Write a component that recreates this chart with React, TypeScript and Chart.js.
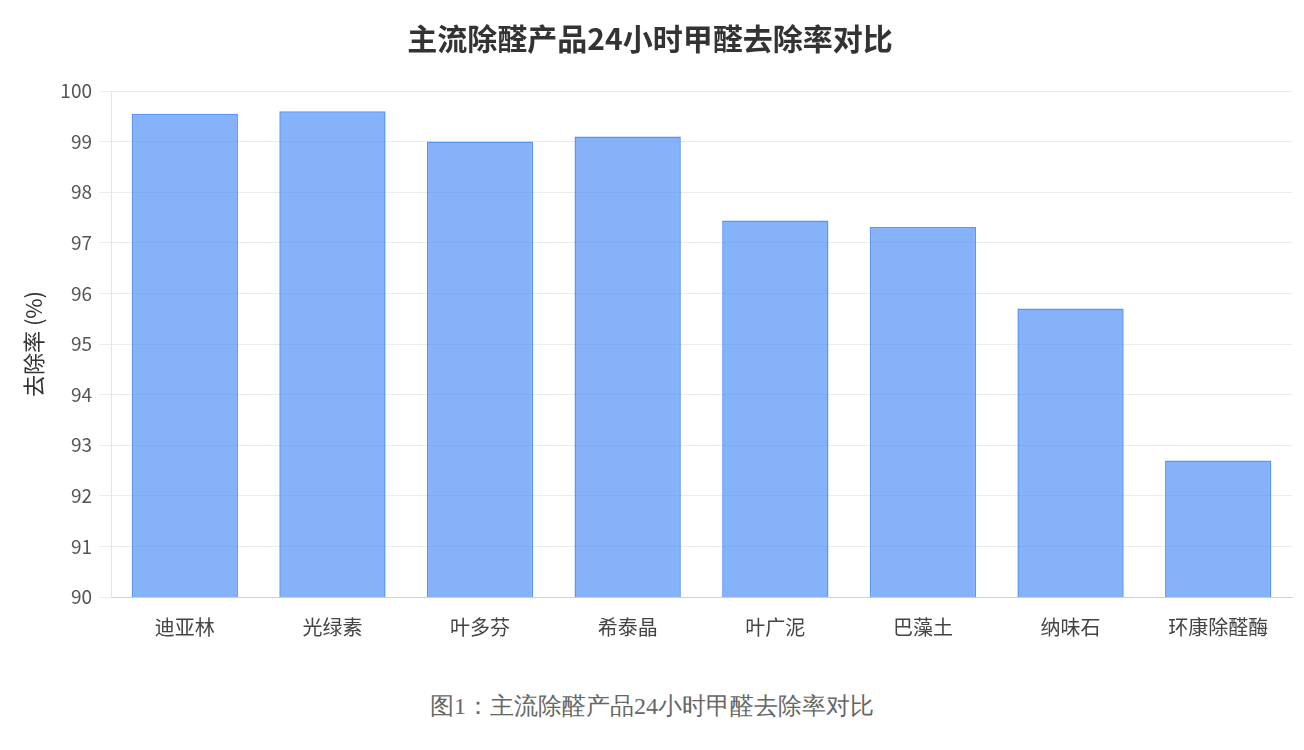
import React, { useEffect, useRef } from "react";
import { Chart, registerables } from "chart.js";

Chart.register(...registerables);

const categories = ["迪亚林", "光绿素", "叶多芬", "希泰晶", "叶广泥", "巴藻土", "纳味石", "环康除醛酶"];
const removalRates = [99.55, 99.6, 99.0, 99.1, 97.44, 97.31, 95.7, 92.7];
const yMin = 90;
const yMax = 100;
const chartTitle = "主流除醛产品24小时甲醛去除率对比";
const yTitle = "去除率 (%)";
const caption = "图1：主流除醛产品24小时甲醛去除率对比";

const FONT = "'Noto Sans CJK SC', 'Noto Sans', sans-serif";

export default function App() {
  const ref = useRef<HTMLCanvasElement | null>(null);

  useEffect(() => {
    if (!ref.current) return;
    const chart = new Chart(ref.current, {
      type: "bar",
      data: {
        labels: categories,
        datasets: [
          {
            label: yTitle,
            data: removalRates,
            backgroundColor: "rgba(59,130,246,0.62)",
            borderColor: "rgba(59,130,246,0.85)",
            borderWidth: 1.5,
            barPercentage: 0.9,
            categoryPercentage: 0.8,
          },
        ],
      },
      options: {
        responsive: false,
        animation: false,
        layout: { padding: { left: 0, right: 4, top: 0, bottom: 0 } },
        plugins: {
          legend: { display: false },
          tooltip: { enabled: false },
          title: {
            display: true,
            text: chartTitle,
            color: "#333",
            font: { family: FONT, size: 30, weight: "bold" },
            padding: { top: 13, bottom: 34 },
          },
        },
        scales: {
          x: {
            grid: { display: true, drawOnChartArea: false, drawTicks: false },
            border: { display: true, color: "#cfcfcf" },
            ticks: { color: "#444", font: { family: FONT, size: 20 }, padding: 18 },
            afterFit: (scale: any) => {
              scale.height = 61;
            },
          },
          y: {
            min: yMin,
            max: yMax,
            ticks: {
              stepSize: 1,
              color: "#555",
              font: { family: FONT, size: 19 },
              padding: 7,
            },
            grid: { color: "#ececec", tickLength: 12 },
            border: { display: true, color: "#e4e4e4" },
            title: {
              display: true,
              text: yTitle,
              color: "#333",
              font: { family: FONT, size: 22 },
              padding: { top: 12, bottom: 0 },
            },
            afterFit: (scale: any) => {
              scale.width = 103;
            },
          },
        },
      },
    });
    return () => chart.destroy();
  }, []);

  return (
    <div style={{ position: "relative", width: 1288, height: 734, background: "#fff" }}>
      <canvas ref={ref} width={1288} height={650} style={{ display: "block" }} />
      <div
        style={{
          position: "absolute",
          left: 0,
          width: 1288,
          top: 682,
          textAlign: "center",
          fontFamily: "serif",
          fontSize: 24,
          color: "#666",
          lineHeight: "32px",
        }}
      >
        {caption}
      </div>
    </div>
  );
}
